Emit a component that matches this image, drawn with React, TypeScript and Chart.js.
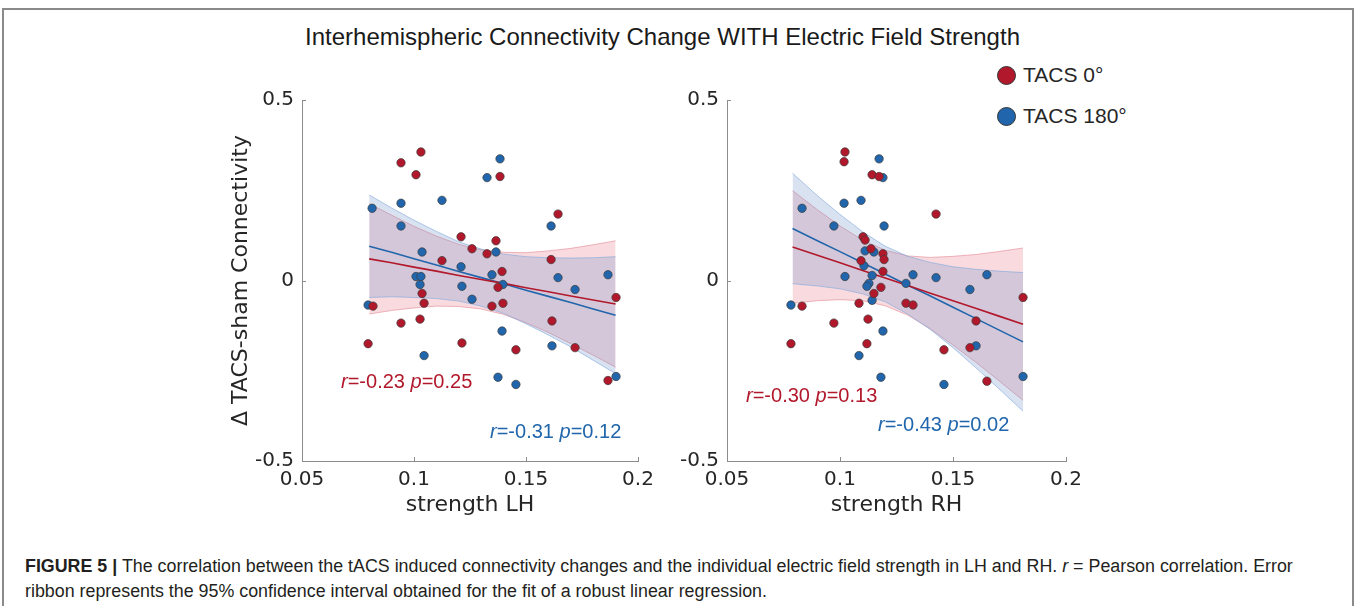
import React, { useEffect, useRef } from 'react';
import { Chart, registerables } from 'chart.js';

Chart.register(...registerables);

const RED = 'rgb(178,24,43)';
const BLUE = 'rgb(33,102,172)';
const AXIS = '#8c8c8c';
const TEXT = '#262626';

// ---- LH panel: scatter points ----
const lhRedX = [0.1031, 0.0942, 0.1009, 0.1210, 0.1384, 0.1643, 0.1366, 0.1259, 0.1326, 0.1612, 0.1125, 0.1036, 0.1045, 0.0817, 0.0942, 0.1027, 0.0795, 0.1214, 0.1393, 0.1375, 0.1902, 0.1348, 0.1397, 0.1616, 0.1455, 0.1719, 0.1866];
const lhRedY = [0.356, 0.326, 0.293, 0.121, 0.288, 0.184, 0.110, 0.088, 0.074, 0.058, 0.055, -0.036, -0.063, -0.071, -0.118, -0.107, -0.175, -0.173, 0.025, -0.019, -0.047, -0.071, -0.063, -0.112, -0.192, -0.186, -0.277];
const lhBlueX = [0.1384, 0.1326, 0.1612, 0.1366, 0.0813, 0.0942, 0.1125, 0.0942, 0.1036, 0.1210, 0.1009, 0.1031, 0.1027, 0.1214, 0.0795, 0.1045, 0.1259, 0.1348, 0.1397, 0.1643, 0.1866, 0.1719, 0.1393, 0.1616, 0.1375, 0.1455, 0.1902];
const lhBlueY = [0.337, 0.285, 0.151, 0.079, 0.200, 0.214, 0.222, 0.151, 0.079, 0.038, 0.011, 0.011, -0.011, -0.016, -0.068, -0.208, -0.052, 0.016, -0.011, 0.008, 0.016, -0.025, -0.140, -0.181, -0.268, -0.288, -0.266];

// ---- LH panel: robust fit lines and 95% CI ribbons ----
const lhFitX = [0.08, 0.09, 0.10, 0.11, 0.12, 0.13, 0.14, 0.15, 0.16, 0.17, 0.18, 0.19];
const lhRedFit = [0.060, 0.049, 0.037, 0.026, 0.014, 0.003, -0.008, -0.020, -0.031, -0.043, -0.054, -0.065];
const lhRedHi = [0.213, 0.181, 0.150, 0.123, 0.100, 0.085, 0.078, 0.077, 0.082, 0.089, 0.099, 0.110];
const lhRedLo = [-0.093, -0.083, -0.076, -0.071, -0.072, -0.079, -0.094, -0.117, -0.144, -0.175, -0.207, -0.240];
const lhBlueFit = [0.095, 0.078, 0.060, 0.043, 0.025, 0.008, -0.009, -0.027, -0.044, -0.061, -0.079, -0.096];
const lhBlueHi = [0.237, 0.201, 0.167, 0.136, 0.107, 0.087, 0.073, 0.066, 0.063, 0.062, 0.063, 0.066];
const lhBlueLo = [-0.047, -0.045, -0.047, -0.050, -0.057, -0.071, -0.091, -0.120, -0.151, -0.184, -0.221, -0.258];

// ---- RH panel: scatter points ----
const rhRedX = [0.1022, 0.1018, 0.1142, 0.1173, 0.1102, 0.1111, 0.1137, 0.1190, 0.1195, 0.1093, 0.1425, 0.1190, 0.1181, 0.1150, 0.1084, 0.1292, 0.0832, 0.0973, 0.1124, 0.0783, 0.1119, 0.1810, 0.1323, 0.1602, 0.1460, 0.1575, 0.1650];
const rhRedY = [0.356, 0.329, 0.293, 0.288, 0.121, 0.112, 0.088, 0.074, 0.058, 0.055, 0.184, 0.025, -0.019, -0.036, -0.063, -0.063, -0.071, -0.118, -0.107, -0.175, -0.175, -0.047, -0.068, -0.112, -0.192, -0.186, -0.279];
const rhBlueX = [0.1173, 0.1190, 0.0832, 0.1018, 0.1093, 0.0973, 0.1195, 0.1111, 0.1150, 0.1106, 0.1022, 0.1142, 0.1128, 0.1119, 0.1292, 0.1142, 0.0783, 0.1190, 0.1084, 0.1181, 0.1323, 0.1425, 0.1650, 0.1575, 0.1602, 0.1460, 0.1810];
const rhBlueY = [0.337, 0.285, 0.200, 0.214, 0.222, 0.151, 0.151, 0.082, 0.079, 0.041, 0.011, 0.014, -0.008, -0.016, -0.008, -0.055, -0.068, -0.140, -0.208, -0.268, 0.016, 0.008, 0.016, -0.025, -0.181, -0.288, -0.266];

// ---- RH panel: robust fit lines and 95% CI ribbons ----
const rhFitX = [0.079, 0.09, 0.10, 0.11, 0.12, 0.13, 0.14, 0.15, 0.16, 0.17, 0.181];
const rhRedFit = [0.093, 0.070, 0.049, 0.028, 0.007, -0.014, -0.035, -0.056, -0.077, -0.098, -0.121];
const rhRedHi = [0.249, 0.196, 0.151, 0.112, 0.084, 0.068, 0.064, 0.067, 0.072, 0.080, 0.090];
const rhRedLo = [-0.063, -0.056, -0.053, -0.056, -0.070, -0.096, -0.134, -0.179, -0.226, -0.276, -0.332];
const rhBlueFit = [0.144, 0.110, 0.080, 0.049, 0.018, -0.013, -0.043, -0.074, -0.105, -0.136, -0.170];
const rhBlueHi = [0.297, 0.235, 0.183, 0.135, 0.095, 0.067, 0.050, 0.038, 0.031, 0.026, 0.022];
const rhBlueLo = [-0.009, -0.015, -0.023, -0.037, -0.059, -0.093, -0.136, -0.186, -0.241, -0.298, -0.362];

// ---- axes ----
const xTicks = [0.05, 0.1, 0.15, 0.2];
const xTickLabels = ['0.05', '0.1', '0.15', '0.2'];
const yTicks = [-0.5, 0, 0.5];
const yTickLabels = ['-0.5', '0', '0.5'];

const seriesNames = ['TACS 0°', 'TACS 180°'];

const pts = (xs: number[], ys: number[]) => xs.map((x, i) => ({ x, y: ys[i] }));

const inwardTicks = {
  id: 'inwardTicks',
  afterDraw(chart: any) {
    const { ctx, chartArea, scales } = chart;
    ctx.save();
    ctx.strokeStyle = AXIS;
    ctx.lineWidth = 1;
    const xs = scales.x;
    const ys = scales.y;
    xs.ticks.forEach((t: any) => {
      const px = Math.round(xs.getPixelForValue(t.value)) + 0.5;
      ctx.beginPath();
      ctx.moveTo(px, chartArea.bottom);
      ctx.lineTo(px, chartArea.bottom - 4);
      ctx.stroke();
    });
    ys.ticks.forEach((t: any) => {
      const py = Math.round(ys.getPixelForValue(t.value)) + 0.5;
      ctx.beginPath();
      ctx.moveTo(chartArea.left, py);
      ctx.lineTo(chartArea.left + 4, py);
      ctx.stroke();
    });
    ctx.restore();
  },
};

type PanelProps = {
  left: number;
  top: number;
  width: number;
  height: number;
  padRight: number;
  redX: number[]; redY: number[]; blueX: number[]; blueY: number[];
  fitX: number[];
  redFit: number[]; redHi: number[]; redLo: number[];
  blueFit: number[]; blueHi: number[]; blueLo: number[];
  xTitle: string;
  yTitle?: string;
};

function Panel(p: PanelProps) {
  const ref = useRef<HTMLCanvasElement>(null);
  useEffect(() => {
    const ribbonLine = (xs: number[], ys: number[], edge: string, fill: any, bg: string, order: number) => ({
      data: pts(xs, ys),
      borderColor: edge,
      borderWidth: 0.8,
      backgroundColor: bg,
      pointRadius: 0,
      showLine: true,
      fill,
      order,
    });
    const chart = new Chart(ref.current as HTMLCanvasElement, {
      type: 'line',
      data: {
        datasets: [
          {
            label: seriesNames[0],
            data: pts(p.redX, p.redY),
            showLine: false,
            pointRadius: 4.2,
            pointBackgroundColor: RED,
            pointBorderColor: '#3c3c3c',
            pointBorderWidth: 0.7,
            order: 0,
          } as any,
          {
            label: seriesNames[1],
            data: pts(p.blueX, p.blueY),
            showLine: false,
            pointRadius: 4.2,
            pointBackgroundColor: BLUE,
            pointBorderColor: '#3c3c3c',
            pointBorderWidth: 0.7,
            order: 0,
          },
          { data: pts(p.fitX, p.redFit), borderColor: RED, borderWidth: 1.6, pointRadius: 0, showLine: true, fill: false, order: 1 },
          { data: pts(p.fitX, p.blueFit), borderColor: BLUE, borderWidth: 1.6, pointRadius: 0, showLine: true, fill: false, order: 1 },
          ribbonLine(p.fitX, p.redLo, 'rgba(225,130,140,0.7)', false, 'transparent', 3),
          ribbonLine(p.fitX, p.redHi, 'rgba(225,130,140,0.7)', '-1', 'rgba(228,120,135,0.27)', 3),
          ribbonLine(p.fitX, p.blueLo, 'rgba(130,170,220,0.8)', false, 'transparent', 2),
          ribbonLine(p.fitX, p.blueHi, 'rgba(130,170,220,0.8)', '-1', 'rgba(105,140,200,0.25)', 2),
        ],
      },
      options: {
        responsive: false,
        animation: false,
        events: [],
        layout: { padding: { top: 16, right: p.padRight, bottom: 0, left: 0 } },
        plugins: { legend: { display: false }, tooltip: { enabled: false } },
        scales: {
          x: {
            type: 'linear',
            min: 0.05,
            max: 0.2,
            grid: { display: false, drawTicks: false },
            border: { display: true, color: AXIS, width: 1 },
            afterBuildTicks: (s: any) => { s.ticks = xTicks.map((v) => ({ value: v })); },
            afterFit: (s: any) => { s.height = 69; },
            ticks: {
              padding: 7,
              color: TEXT,
              font: { family: 'DejaVu Sans', size: 20 },
              maxRotation: 0,
              autoSkip: false,
              callback: (v: any) => xTickLabels[xTicks.findIndex((t) => Math.abs(t - v) < 1e-6)] ?? '',
            },
            title: {
              display: true,
              text: p.xTitle,
              color: TEXT,
              font: { family: 'DejaVu Sans', size: 22 },
              padding: { top: 0, bottom: 12 },
            },
          },
          y: {
            type: 'linear',
            min: -0.5,
            max: 0.5,
            grid: { display: false, drawTicks: false },
            border: { display: true, color: AXIS, width: 1 },
            afterBuildTicks: (s: any) => { s.ticks = yTicks.map((v) => ({ value: v })); },
            afterFit: (s: any) => { s.width = 102; },
            ticks: {
              padding: 8,
              color: TEXT,
              font: { family: 'DejaVu Sans', size: 20 },
              autoSkip: false,
              callback: (v: any) => yTickLabels[yTicks.findIndex((t) => Math.abs(t - v) < 1e-6)] ?? '',
            },
            title: {
              display: !!p.yTitle,
              text: p.yTitle || '',
              color: TEXT,
              font: { family: 'DejaVu Sans', size: 22 },
              padding: { top: 28, bottom: 0 },
            },
          },
        },
      },
      plugins: [inwardTicks],
    } as any);
    return () => chart.destroy();
  }, []);
  return (
    <canvas
      ref={ref}
      width={p.width}
      height={p.height}
      style={{ position: 'absolute', left: p.left, top: p.top, width: p.width, height: p.height }}
    />
  );
}

const sans = '"Liberation Sans", Arial, Helvetica, sans-serif';

function Stat({ left, top, color, r, pv }: { left: number; top: number; color: string; r: string; pv: string }) {
  return (
    <div style={{ position: 'absolute', left, top, color, font: `20px ${sans}`, lineHeight: '24px', whiteSpace: 'nowrap' }}>
      <i>r</i>={r} <i>p</i>={pv}
    </div>
  );
}

function LegendItem({ top, color, label }: { top: number; color: string; label: string }) {
  return (
    <div style={{ position: 'absolute', left: 997, top, height: 24, display: 'flex', alignItems: 'center', whiteSpace: 'nowrap' }}>
      <div style={{ width: 17, height: 17, borderRadius: '50%', background: color, border: '1px solid #333', marginRight: 7 }} />
      <span style={{ font: `21px ${sans}`, color: TEXT }}>{label}</span>
    </div>
  );
}

export default function App() {
  return (
    <div style={{ position: 'fixed', left: 0, top: 0, width: 1357, height: 606, background: '#fff', overflow: 'hidden' }}>
      <div style={{ position: 'absolute', left: 2, top: 8, width: 1348, height: 700, border: '2px solid #8a8a8a' }} />
      <div
        style={{
          position: 'absolute', left: 662.5, top: 23, transform: 'translateX(-50%)',
          font: `24px ${sans}`, lineHeight: '28px', color: '#1a1a1a', whiteSpace: 'nowrap',
        }}
      >
        Interhemispheric Connectivity Change WITH Electric Field Strength
      </div>
      <LegendItem top={63} color={RED} label={seriesNames[0]} />
      <LegendItem top={104} color={BLUE} label={seriesNames[1]} />

      <Panel
        left={200} top={80} width={470} height={450} padRight={32}
        redX={lhRedX} redY={lhRedY} blueX={lhBlueX} blueY={lhBlueY}
        fitX={lhFitX} redFit={lhRedFit} redHi={lhRedHi} redLo={lhRedLo}
        blueFit={lhBlueFit} blueHi={lhBlueHi} blueLo={lhBlueLo}
        xTitle="strength LH" yTitle="Δ TACS-sham Connectivity"
      />
      <Panel
        left={625} top={80} width={470} height={450} padRight={29}
        redX={rhRedX} redY={rhRedY} blueX={rhBlueX} blueY={rhBlueY}
        fitX={rhFitX} redFit={rhRedFit} redHi={rhRedHi} redLo={rhRedLo}
        blueFit={rhBlueFit} blueHi={rhBlueHi} blueLo={rhBlueLo}
        xTitle="strength RH"
      />

      <Stat left={341} top={369} color={RED} r="-0.23" pv="0.25" />
      <Stat left={490} top={419} color={BLUE} r="-0.31" pv="0.12" />
      <Stat left={746} top={383} color={RED} r="-0.30" pv="0.13" />
      <Stat left={878} top={412} color={BLUE} r="-0.43" pv="0.02" />

      <div style={{ position: 'absolute', left: 25, top: 554, font: `17.85px ${sans}`, lineHeight: '25px', color: '#231f20', whiteSpace: 'nowrap' }}>
        <b>FIGURE 5 |</b> The correlation between the tACS induced connectivity changes and the individual electric field strength in LH and RH. <i>r</i> = Pearson correlation. Error
        <br />
        ribbon represents the 95% confidence interval obtained for the fit of a robust linear regression.
      </div>
    </div>
  );
}
